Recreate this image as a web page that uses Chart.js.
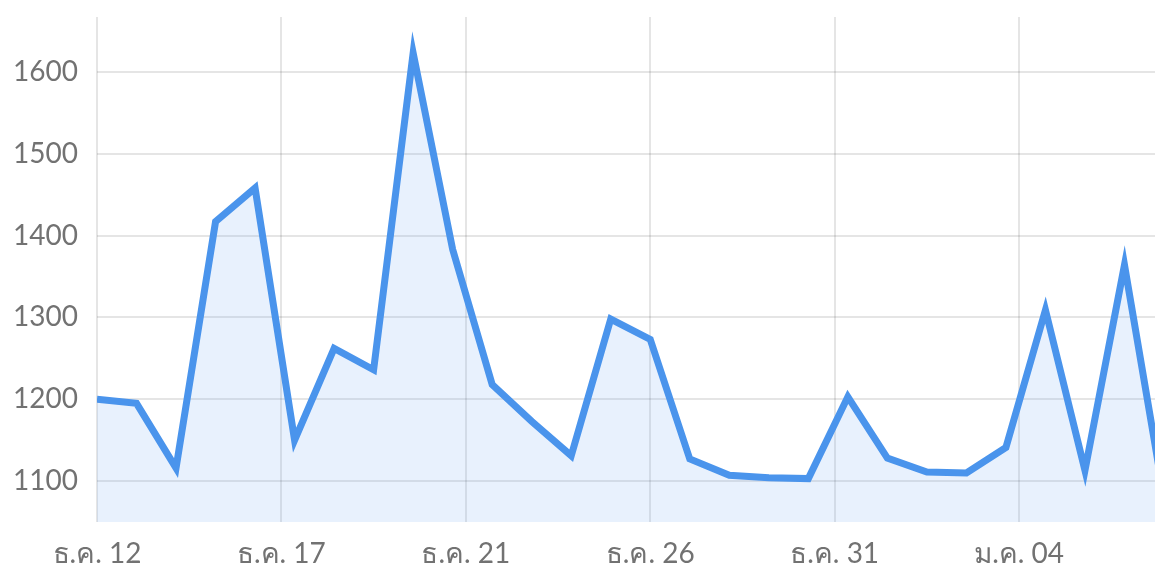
<!DOCTYPE html>
<html>
<head>
<meta charset="utf-8">
<script src="https://cdn.jsdelivr.net/npm/chart.js@4/dist/chart.umd.min.js"></script>
<style>
  html, body { margin: 0; padding: 0; background: #fff; overflow: hidden; }
  #wrap { position: relative; width: 1180px; height: 570px; }
</style>
</head>
<body>
<div id="wrap"><canvas id="chart"></canvas></div>
<script>
// daily values, ธ.ค. 12 -> ม.ค. 08
const values = [1200, 1195, 1116, 1417, 1458, 1150, 1262, 1236, 1623, 1383,
                1218, 1173, 1131, 1298, 1273, 1127, 1107, 1104, 1103, 1203,
                1128, 1111, 1110, 1141, 1309, 1113, 1364, 1080]
const tickLabels = ['ธ.ค. 12', 'ธ.ค. 17', 'ธ.ค. 21', 'ธ.ค. 26', 'ธ.ค. 31', 'ม.ค. 04']
const tickStep = 28 / 6
const yMin = 1050
const yMax = 1667

const points = values.map((v, i) => ({ x: i, y: v }))

const textColor = '#727272'
const gridColor = 'rgba(0,0,0,0.1)'

new Chart(document.getElementById('chart'), {
  type: 'line',
  data: {
    datasets: [{
      data: points,
      borderColor: '#4a94ec',
      backgroundColor: 'rgba(74,148,236,0.13)',
      borderWidth: 7,
      fill: 'start',
      pointRadius: 0,
      tension: 0
    }]
  },
  options: {
    responsive: true,
    maintainAspectRatio: false,
    animation: false,
    layout: { padding: { top: 17, right: 16, left: 0, bottom: 0 } },
    plugins: { legend: { display: false }, tooltip: { enabled: false } },
    scales: {
      x: {
        type: 'linear',
        min: 0,
        max: values.length - 1,
        afterBuildTicks: (scale) => {
          scale.ticks = tickLabels.map((_, i) => ({ value: i * tickStep }))
        },
        afterFit: (scale) => { scale.height = 48 },
        ticks: {
          autoSkip: false,
          maxRotation: 0,
          padding: 15,
          color: textColor,
          font: { family: 'Lato, "Open Sans", sans-serif', size: 28 },
          callback: (value, index) => tickLabels[index]
        },
        grid: { color: gridColor, lineWidth: 2, drawTicks: false },
        border: { display: false }
      },
      y: {
        min: yMin,
        max: yMax,
        afterFit: (scale) => {
          scale.width = 97
          scale.paddingTop = 0
          scale.paddingBottom = 0
        },
        ticks: {
          stepSize: 100,
          includeBounds: false,
          padding: 19,
          color: textColor,
          font: { family: 'Lato, "Open Sans", sans-serif', size: 28 },
          callback: (value) => String(value)
        },
        grid: { color: gridColor, lineWidth: 2, drawTicks: false },
        border: { display: false }
      }
    }
  }
})
</script>
</body>
</html>
